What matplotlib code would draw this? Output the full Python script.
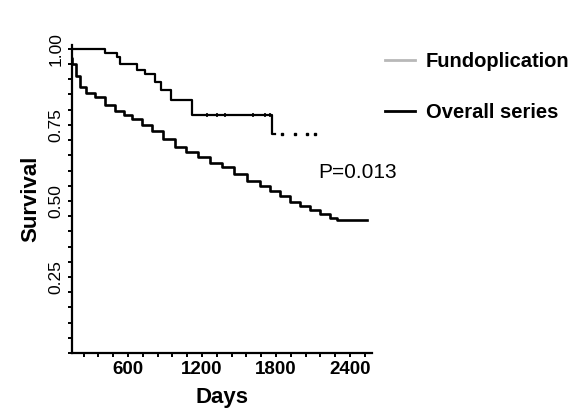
import matplotlib
matplotlib.use("Agg")
import matplotlib.pyplot as plt
from matplotlib.ticker import MultipleLocator, FixedLocator

plt.rcParams["font.family"] = ["Liberation Sans", "DejaVu Sans"]

# Kaplan-Meier step estimates (days, survival)
fundo_days = [0, 410, 507, 532, 669, 734, 815, 871, 952, 1122, 1765]
fundo_surv = [1.0, 0.985, 0.972, 0.951, 0.931, 0.918, 0.892, 0.866, 0.833,
              0.784, 0.72]
fundo_end = 1790
# censored patients on the plateau and beyond the last event
fundo_plateau_cens = [1240, 1320, 1390, 1615, 1710, 1750]
fundo_cens_days = [1850, 1955, 2050, 2118]
fundo_cens_surv = [0.72, 0.72, 0.72, 0.72]

overall_days = [0, 60, 146, 178, 211, 260, 333, 414, 495, 568, 633, 714, 795,
                884, 981, 1071, 1168, 1265, 1363, 1460, 1565, 1671, 1752, 1833,
                1914, 1995, 2076, 2157, 2238, 2295]
overall_surv = [1.0, 0.97, 0.95, 0.91, 0.875, 0.856, 0.843, 0.816, 0.797,
                0.784, 0.770, 0.751, 0.731, 0.705, 0.679, 0.662, 0.643, 0.626,
                0.610, 0.590, 0.564, 0.548, 0.534, 0.515, 0.498, 0.485, 0.469,
                0.456, 0.443, 0.436]
overall_end = 2540

series_labels = ["Fundoplication", "Overall series"]
p_text = "P=0.013"
x_major = [600, 1200, 1800, 2400]
y_major = [0.25, 0.50, 0.75, 1.00]

fig = plt.figure(figsize=(5.79, 4.11), dpi=100)
ax = fig.add_axes([0.1244, 0.141, 0.518, 0.749])

fx = fundo_days + [fundo_end]
fy = fundo_surv + [fundo_surv[-1]]
ax.plot(fx, fy, drawstyle="steps-post", color="black", lw=1.6)
ax.plot(fundo_plateau_cens, [fundo_surv[-2]] * len(fundo_plateau_cens),
        linestyle="none", marker="|", markersize=3, mew=1.2, color="black")
ax.plot(fundo_cens_days, fundo_cens_surv, linestyle="none", marker="s",
        markersize=1.8, color="black")

ox = overall_days + [overall_end]
oy = overall_surv + [overall_surv[-1]]
ax.plot(ox, oy, drawstyle="steps-post", color="black", lw=1.9)

ax.set_xlim(146, 2578)
ax.set_ylim(0, 1.012)

ax.xaxis.set_major_locator(FixedLocator(x_major))
ax.xaxis.set_minor_locator(MultipleLocator(120))
ax.yaxis.set_major_locator(FixedLocator(y_major))
ax.yaxis.set_minor_locator(MultipleLocator(0.05))
ax.set_yticklabels([f"{v:.2f}" for v in y_major], rotation=90, va="center",
                   fontsize=12.5)
ax.set_xticklabels([str(v) for v in x_major], fontsize=13.5, fontweight="bold")
ax.tick_params(which="both", direction="out", width=1.4, length=3, pad=3)

for s in ["top", "right"]:
    ax.spines[s].set_visible(False)
for s in ["left", "bottom"]:
    ax.spines[s].set_linewidth(1.6)

ax.set_xlabel("Days", fontsize=16, fontweight="bold", labelpad=6)
ax.set_ylabel("Survival", fontsize=16, fontweight="bold", labelpad=5)

ax.text(2140, 0.593, p_text, fontsize=15, va="center", ha="left")

# legend handles: grey for the fundoplication group, black for all patients
h_f, = ax.plot([], [], color="#b8b8b8", lw=2)
h_o, = ax.plot([], [], color="black", lw=2)
fig.legend([h_f, h_o], series_labels, loc="upper left",
           bbox_to_anchor=(0.633, 0.918), frameon=False,
           prop={"size": 14.5, "weight": "bold"}, handlelength=1.5,
           handletextpad=0.55, labelspacing=1.6)

fig.savefig("out.png", dpi=100)
